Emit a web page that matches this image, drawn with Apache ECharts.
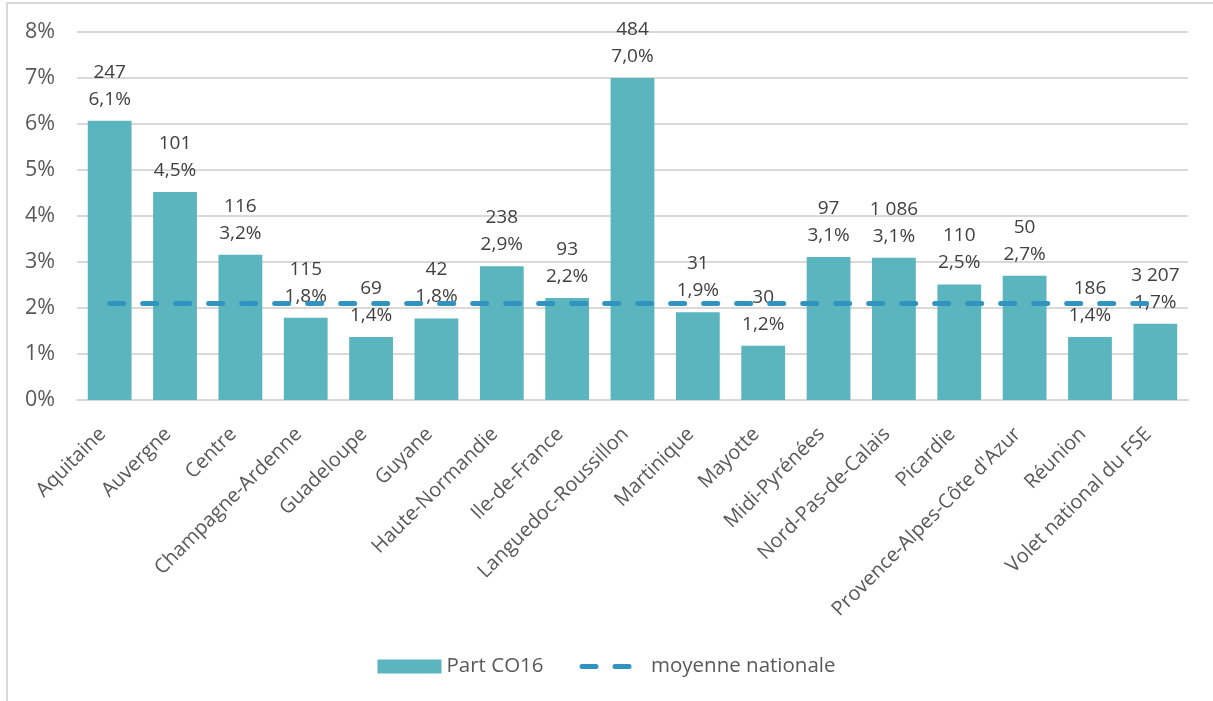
<html lang="fr">
<head>
    <meta charset="UTF-8">
    <title>Part CO16</title>
    <script src="https://cdn.jsdelivr.net/npm/echarts@6/dist/echarts.min.js"></script>
    <style>
        html, body { margin: 0; padding: 0; background: #fff; }
    </style>
</head>
<body>
    <div id="main" style="width:1213px;height:701px;"></div>
    <script type="text/javascript">
        var regions = ['Aquitaine', 'Auvergne', 'Centre', 'Champagne-Ardenne', 'Guadeloupe', 'Guyane',
            'Haute-Normandie', 'Ile-de-France', 'Languedoc-Roussillon', 'Martinique', 'Mayotte',
            'Midi-Pyrénées', 'Nord-Pas-de-Calais', 'Picardie', "Provence-Alpes-Côte d'Azur",
            'Réunion', 'Volet national du FSE'];
        // part CO16 (%)
        var partCO16 = [6.07, 4.52, 3.16, 1.79, 1.37, 1.77, 2.91, 2.22, 7.0, 1.91, 1.18,
            3.11, 3.09, 2.51, 2.70, 1.37, 1.66];
        // effectifs
        var effectifs = [247, 101, 116, 115, 69, 42, 238, 93, 484, 31, 30, 97, 1086, 110, 50, 186, 3207];
        var moyenne = [2.1, 2.1, 2.1, 2.1, 2.1, 2.1, 2.1, 2.1, 2.1, 2.1, 2.1, 2.1, 2.1, 2.1, 2.1, 2.1, 2.1];
        var yTicks = [0, 1, 2, 3, 4, 5, 6, 7, 8];

        function fmtNb(n) {
            return String(n).replace(/\B(?=(\d{3})+(?!\d))/g, ' ');
        }

        var chart = echarts.init(document.getElementById('main'));
        var font = 'Open Sans';
        option = {
            animation: false,
            textStyle: { fontFamily: font },
            graphic: [{
                type: 'rect',
                shape: { x: 7, y: 3, width: 1220, height: 710 },
                style: { fill: null, stroke: '#d9d9d9', lineWidth: 2 },
                silent: true
            }],
            grid: { left: 77, right: 25, top: 32, bottom: 301 },
            legend: {
                bottom: 19,
                left: 'center',
                itemGap: 36,
                itemWidth: 64,
                itemHeight: 14,
                textStyle: { fontSize: 20.5, color: '#595959', fontFamily: font },
                data: [
                    { name: 'Part CO16', icon: 'rect' },
                    { name: 'moyenne nationale', itemStyle: { opacity: 0 }, lineStyle: { width: 5 } }
                ]
            },
            xAxis: {
                type: 'category',
                data: regions,
                axisTick: { show: false },
                axisLine: { lineStyle: { color: '#d9d9d9', width: 2 } },
                axisLabel: {
                    rotate: 45,
                    interval: 0,
                    fontSize: 20,
                    color: '#595959',
                    margin: 24,
                    padding: [0, 10, 0, 0]
                }
            },
            yAxis: {
                type: 'value',
                min: yTicks[0],
                max: yTicks[yTicks.length - 1],
                interval: 1,
                axisLine: { show: false },
                axisTick: { show: false },
                splitLine: { lineStyle: { color: '#d9d9d9', width: 2 } },
                axisLabel: {
                    formatter: function (v) { return v + '%'; },
                    fontSize: 21.5,
                    color: '#595959',
                    margin: 22
                }
            },
            series: [{
                name: 'Part CO16',
                type: 'bar',
                data: partCO16,
                barWidth: '67%',
                itemStyle: { color: '#5AB5BF' },
                label: {
                    show: true,
                    position: 'top',
                    distance: 8,
                    fontSize: 19,
                    lineHeight: 27,
                    color: '#404040',
                    fontFamily: font,
                    formatter: function (p) {
                        return fmtNb(effectifs[p.dataIndex]) + '\n' + p.value.toFixed(1).replace('.', ',') + '%';
                    }
                },
                z: 2
            }, {
                name: 'moyenne nationale',
                type: 'line',
                data: moyenne,
                symbol: 'none',
                itemStyle: { color: '#3193BF' },
                lineStyle: { color: '#3193BF', width: 5, type: [14, 19], cap: 'round' },
                z: 3
            }]
        };
        chart.setOption(option);
    </script>
</body>
</html>
